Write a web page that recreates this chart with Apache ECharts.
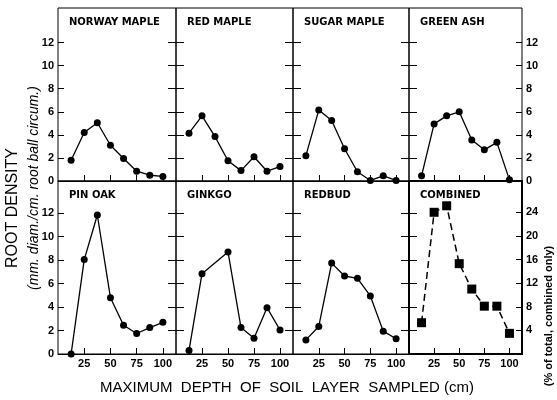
<!DOCTYPE html>
<html>
<head>
<meta charset="utf-8">
<script src="https://cdn.jsdelivr.net/npm/echarts@6/dist/echarts.min.js"></script>
<style>
  html, body { margin: 0; padding: 0; background: #fff; }
  #chart { width: 557px; height: 400px; }
</style>
</head>
<body>
<div id="chart"></div>
<script>
// depth of each sampled layer (cm)
const depths = [12.5, 25, 37.5, 50, 62.5, 75, 87.5, 100];
const panelNames = ['NORWAY MAPLE', 'RED MAPLE', 'SUGAR MAPLE', 'GREEN ASH',
                    'PIN OAK', 'GINKGO', 'REDBUD', 'COMBINED'];

const norwayMaple = [1.8, 4.2, 5.05, 3.1, 1.95, 0.85, 0.5, 0.4];
const redMaple    = [4.15, 5.65, 3.85, 1.75, 0.9, 2.1, 0.85, 1.25];
const sugarMaple  = [2.2, 6.15, 5.25, 2.8, 0.8, 0.05, 0.45, 0.05];
const greenAsh    = [0.45, 4.95, 5.65, 6.0, 3.55, 2.7, 3.35, 0.1];
const pinOak      = [0, 8.05, 11.85, 4.8, 2.45, 1.75, 2.25, 2.7];
const ginkgo      = [0.3, 6.85, null, 8.7, 2.25, 1.35, 3.95, 2.05];
const redbud      = [1.2, 2.35, 7.75, 6.65, 6.45, 4.95, 1.95, 1.3];
const combined    = [5.3, 24.0, 25.1, 15.3, 11.0, 8.1, 8.1, 3.5]; // % of total

const xTicks = [25, 50, 75, 100];
const yTicks = [2, 4, 6, 8, 10, 12];
const yLabels = [0, 2, 4, 6, 8, 10, 12];
const pctTicks = [4, 8, 12, 16, 20, 24];

const seriesData = [norwayMaple, redMaple, sugarMaple, greenAsh, pinOak, ginkgo, redbud, combined];

const colEdges = [58, 176, 293, 409, 522];
const rowTops = [8, 181];
const rowH = 173;
const rowMax = [15, 14.75];

const font = 'Liberation Sans';
const chart = echarts.init(document.getElementById('chart'), null, { renderer: 'canvas' });

const grid = [], xAxis = [], yAxis = [], series = [], title = [];

for (let i = 0; i < 8; i++) {
  const r = Math.floor(i / 4), c = i % 4;
  const isComb = i === 7;
  grid.push({
    left: colEdges[c], top: rowTops[r],
    width: colEdges[c + 1] - colEdges[c], height: rowH,
    show: true, borderColor: '#000', borderWidth: isComb ? 2 : 1,
    backgroundColor: 'transparent', containLabel: false
  });
  title.push({
    text: panelNames[i],
    left: colEdges[c] + 11, top: rowTops[r] + 9,
    padding: 0,
    textStyle: { fontSize: 10, fontWeight: 'bold', fontFamily: 'DejaVu Sans', color: '#000' }
  });
  xAxis.push({
    gridIndex: i, type: 'value', min: 0, max: 112.5,
    axisLine: { show: true, lineStyle: { color: '#000', width: isComb ? 2 : 1 } },
    axisTick: { show: true, inside: true, length: 6, customValues: xTicks, lineStyle: { color: '#000' } },
    axisLabel: { show: r === 1, customValues: xTicks, margin: 4, color: '#000',
                 fontSize: 11, fontWeight: 'bold', fontFamily: font },
    splitLine: { show: false }
  });
  // left axis
  yAxis.push({
    gridIndex: i, type: 'value', min: 0, max: rowMax[r], position: 'left',
    axisLine: { show: false },
    axisTick: { show: true, inside: true, length: c === 0 ? 6 : 8, customValues: yTicks, lineStyle: { color: '#000' } },
    axisLabel: { show: c === 0, customValues: yLabels, margin: 4, color: '#000',
                 fontSize: 11, fontWeight: 'bold', fontFamily: font },
    splitLine: { show: false }
  });
  // right axis
  if (isComb) {
    yAxis.push({
      gridIndex: i, type: 'value', min: 0, max: 29.3, position: 'right',
      axisLine: { show: false },
      axisTick: { show: true, inside: true, length: 6, customValues: pctTicks, lineStyle: { color: '#000' } },
      axisLabel: { show: true, customValues: pctTicks, margin: 4, color: '#000',
                   fontSize: 11, fontWeight: 'bold', fontFamily: font },
      splitLine: { show: false }
    });
  } else {
    yAxis.push({
      gridIndex: i, type: 'value', min: 0, max: rowMax[r], position: 'right',
      axisLine: { show: false },
      axisTick: { show: true, inside: true, length: c === 3 ? 6 : 8, customValues: yTicks, lineStyle: { color: '#000' } },
      axisLabel: { show: c === 3, customValues: yLabels, margin: 4, color: '#000',
                   fontSize: 11, fontWeight: 'bold', fontFamily: font },
      splitLine: { show: false }
    });
  }
  series.push({
    type: 'line',
    xAxisIndex: i,
    yAxisIndex: isComb ? 2 * i + 1 : 2 * i,
    data: depths.map((d, k) => [d, seriesData[i][k]]),
    connectNulls: true,
    clip: false,
    symbol: isComb ? 'rect' : 'circle',
    symbolSize: isComb ? 9 : 7,
    itemStyle: { color: '#000' },
    lineStyle: { color: '#000', width: isComb ? 1.5 : 1.3, type: isComb ? [7, 4] : 'solid' }
  });
}

chart.setOption({
  animation: false,
  backgroundColor: '#fff',
  title: title,
  grid: grid,
  xAxis: xAxis,
  yAxis: yAxis,
  series: series,
  graphic: [
    { type: 'text', x: 13, y: 208, rotation: Math.PI / 2,
      style: { text: 'ROOT DENSITY', font: '16px "Liberation Sans"', fill: '#000',
               textAlign: 'center', textVerticalAlign: 'middle' } },
    { type: 'text', x: 34, y: 188, rotation: Math.PI / 2,
      style: { text: '(mm. diam./cm. root ball circum.)', font: 'italic 14px "Liberation Sans"', fill: '#000',
               textAlign: 'center', textVerticalAlign: 'middle' } },
    { type: 'text', x: 287, y: 388,
      style: { text: 'MAXIMUM  DEPTH  OF  SOIL  LAYER  SAMPLED (cm)', font: '15px "Liberation Sans"', fill: '#000',
               textAlign: 'center', textVerticalAlign: 'middle' } },
    { type: 'text', x: 549, y: 316, rotation: Math.PI / 2,
      style: { text: '(% of total, combined only)', font: 'bold 11px "Liberation Sans"', fill: '#000',
               textAlign: 'center', textVerticalAlign: 'middle' } }
  ]
});
</script>
</body>
</html>
